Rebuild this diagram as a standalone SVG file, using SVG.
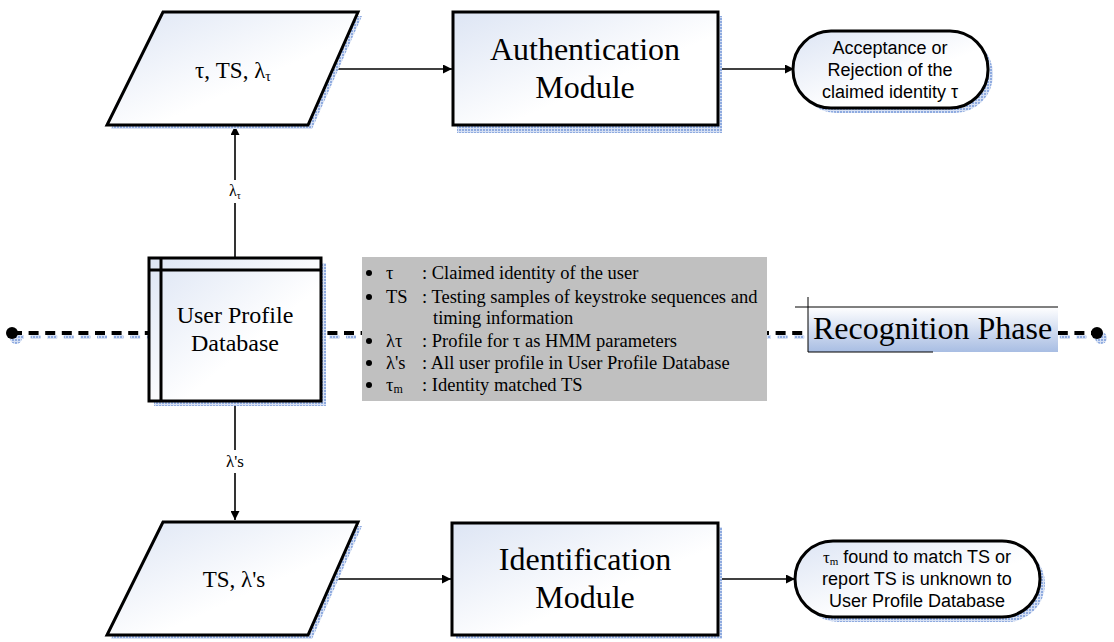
<svg xmlns="http://www.w3.org/2000/svg" width="1114" height="642" viewBox="0 0 1114 642">
<defs>
<linearGradient id="g" x1="0" y1="0" x2="1" y2="1">
<stop offset="0" stop-color="#dde5f4"/>
<stop offset="0.6" stop-color="#ffffff"/>
<stop offset="1" stop-color="#ffffff"/>
</linearGradient>
<linearGradient id="rp" x1="0" y1="0" x2="0" y2="1">
<stop offset="0" stop-color="#ffffff"/>
<stop offset="1" stop-color="#a8bde3"/>
</linearGradient>
<pattern id="sh" width="3" height="3" patternUnits="userSpaceOnUse">
<rect width="3" height="3" fill="#d6e0f3"/>
<rect width="2" height="2" fill="#8fabe0"/>
</pattern>
<marker id="ah" viewBox="0 0 10 10" refX="10" refY="5" markerWidth="9" markerHeight="9" markerUnits="userSpaceOnUse" orient="auto">
<path d="M0,0 L10,5 L0,10 z" fill="#000"/>
</marker>
<style>
.box{fill:url(#g);stroke:#000;stroke-width:3;stroke-linejoin:miter}
.shd{fill:url(#sh)}
.serif{font-family:"Liberation Serif","Times New Roman",serif;fill:#000}
.sans{font-family:"Liberation Sans",Arial,sans-serif;fill:#000}
.conn{stroke:#000;stroke-width:1.6;fill:none}
</style>
</defs>

<!-- phase dashed line -->
<g id="phase-line">
<line x1="14" y1="337" x2="1101" y2="337" stroke="url(#sh)" stroke-width="4" stroke-dasharray="10 6.6"/>
<circle cx="16" cy="338" r="6" fill="url(#sh)"/>
<circle cx="1101" cy="338" r="6" fill="url(#sh)"/>
<line x1="12" y1="333" x2="1097" y2="333" stroke="#000" stroke-width="4" stroke-dasharray="10 6.6"/>
<circle cx="12" cy="333" r="6" fill="#000"/>
<circle cx="1097" cy="333" r="6" fill="#000"/>
</g>

<g id="connectors">
<line class="conn" x1="235" y1="258" x2="235" y2="126" marker-end="url(#ah)"/>
<rect x="222" y="180" width="26" height="23" fill="#fff"/>
<text class="serif" x="235" y="196" font-size="16" text-anchor="middle">λ<tspan font-size="10" dy="3">τ</tspan></text>
<line class="conn" x1="235" y1="402" x2="235" y2="520" marker-end="url(#ah)"/>
<rect x="220" y="450" width="30" height="23" fill="#fff"/>
<text class="serif" x="235" y="467" font-size="17" text-anchor="middle">λ's</text>
<line class="conn" x1="334" y1="69" x2="452" y2="69" marker-end="url(#ah)"/>
<line class="conn" x1="719" y1="69" x2="794" y2="69" marker-end="url(#ah)"/>
<line class="conn" x1="334" y1="579" x2="451" y2="579" marker-end="url(#ah)"/>
<line class="conn" x1="719" y1="579" x2="795" y2="579" marker-end="url(#ah)"/>
</g>

<g id="input-auth">
<polygon class="shd" points="167,16 362,16 312,129 111,129"/>
<polygon class="box" points="163,12 358,12 308,125 107,125"/>
<text class="serif" x="233" y="78" font-size="23" text-anchor="middle">τ, TS, λ<tspan font-size="14" dy="3">τ</tspan></text>
</g>

<g id="auth-module">
<rect class="shd" x="457" y="16" width="265" height="117"/>
<rect class="box" x="453" y="12" width="265" height="113"/>
<text class="serif" x="585" y="60" font-size="32" text-anchor="middle">Authentication</text>
<text class="serif" x="585" y="98" font-size="32" text-anchor="middle">Module</text>
</g>

<g id="auth-result">
<rect class="shd" x="798" y="36" width="195" height="77" rx="38"/>
<rect class="box" x="793" y="31" width="195" height="77" rx="38"/>
<text class="sans" x="890" y="54" font-size="18" text-anchor="middle">Acceptance or</text>
<text class="sans" x="890" y="76" font-size="18" text-anchor="middle">Rejection of the</text>
<text class="sans" x="890" y="98" font-size="18" text-anchor="middle">claimed identity τ</text>
</g>

<g id="database">
<rect class="shd" x="154" y="263" width="172" height="143"/>
<rect class="box" x="149" y="258" width="172" height="143"/>
<line x1="161" y1="258" x2="161" y2="401" stroke="#000" stroke-width="3"/>
<line x1="149" y1="270" x2="321" y2="270" stroke="#000" stroke-width="3"/>
<text class="serif" x="235" y="323" font-size="24" text-anchor="middle">User Profile</text>
<text class="serif" x="235" y="351" font-size="24" text-anchor="middle">Database</text>
</g>

<g id="legend">
<rect x="362" y="257" width="405" height="144" fill="#c0c0c0"/>
<g fill="#000">
<circle cx="369" cy="273" r="3"/>
<circle cx="369" cy="297" r="3"/>
<circle cx="369" cy="341" r="3"/>
<circle cx="369" cy="363" r="3"/>
<circle cx="369" cy="385" r="3"/>
</g>
<g class="serif" font-size="18.5">
<text x="386" y="279">τ</text><text x="422" y="279">: Claimed identity of the user</text>
<text x="386" y="303">TS</text><text x="422" y="303">: Testing samples of keystroke sequences and</text>
<text x="433" y="324">timing information</text>
<text x="386" y="347">λτ</text><text x="422" y="347">: Profile for τ as HMM parameters</text>
<text x="386" y="369">λ's</text><text x="422" y="369">: All user profile in User Profile Database</text>
<text x="386" y="391">τ<tspan font-size="12" dy="2">m</tspan></text><text x="422" y="391">: Identity matched TS</text>
</g>
</g>

<g id="phase-label">
<rect x="808" y="307" width="250" height="45" fill="url(#rp)"/>
<line x1="795" y1="307" x2="1058" y2="307" stroke="#000" stroke-width="1"/>
<line x1="808" y1="297" x2="808" y2="352" stroke="#000" stroke-width="1"/>
<line x1="808" y1="352" x2="933" y2="352" stroke="#000" stroke-width="1"/>
<text class="serif" x="813" y="339" font-size="32">Recognition Phase</text>
</g>

<g id="input-ident">
<polygon class="shd" points="167,526 362,526 312,639 111,639"/>
<polygon class="box" points="163,522 358,522 308,635 107,635"/>
<text class="serif" x="234" y="587" font-size="23" text-anchor="middle">TS, λ's</text>
</g>

<g id="ident-module">
<rect class="shd" x="456" y="527" width="266" height="112"/>
<rect class="box" x="452" y="523" width="266" height="112"/>
<text class="serif" x="585" y="570" font-size="32" text-anchor="middle">Identification</text>
<text class="serif" x="585" y="608" font-size="32" text-anchor="middle">Module</text>
</g>

<g id="ident-result">
<rect class="shd" x="800" y="546" width="245" height="76" rx="38"/>
<rect class="box" x="795" y="541" width="245" height="76" rx="38"/>
<text class="sans" x="917" y="563" font-size="18" text-anchor="middle"><tspan class="serif" font-size="17">τ</tspan><tspan class="serif" font-size="11" dy="2">m</tspan><tspan dy="-2"> found to match TS or</tspan></text>
<text class="sans" x="917" y="585" font-size="18" text-anchor="middle">report TS is unknown to</text>
<text class="sans" x="917" y="607" font-size="18" text-anchor="middle">User Profile Database</text>
</g>
</svg>
